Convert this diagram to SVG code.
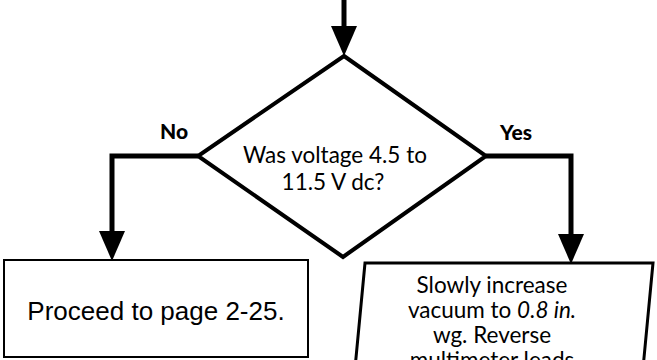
<svg xmlns="http://www.w3.org/2000/svg" width="657" height="360" viewBox="0 0 657 360">
<style>
.conn{fill:none;stroke:#000;stroke-width:5;stroke-linejoin:miter;marker-end:url(#ah)}
.shape{fill:#fff;stroke:#000}
.t{font-family:Lato,"Open Sans","Noto Sans",sans-serif;font-size:22.5px;fill:#000;text-anchor:middle}
.lbl{font-family:Lato,"Open Sans","Noto Sans",sans-serif;font-size:21px;font-weight:900;fill:#000;text-anchor:middle}
.a{font-family:"Liberation Sans",Arial,sans-serif;font-size:26px;fill:#000;text-anchor:middle}
</style>
<defs>
<marker id="ah" markerUnits="userSpaceOnUse" markerWidth="31" markerHeight="26" refX="0" refY="13" orient="auto" overflow="visible">
<path d="M0,0 L30,13 L0,26 Z" fill="#000"/>
</marker>
</defs>
<rect width="657" height="360" fill="#fff"/>
<g id="connectors">
<path class="conn" d="M344,0 V26"/>
<path class="conn" d="M198,156 H112 V231"/>
<path class="conn" d="M486,156 H571 V234"/>
</g>
<g id="decision">
<polygon class="shape" stroke-width="4" points="344,56 486,156 343,257 198,156"/>
<text class="t" x="335" y="163">Was voltage 4.5 to</text>
<text class="t" x="333" y="190">11.5 V dc?</text>
</g>
<g id="label-no"><text class="lbl" x="174" y="139">No</text></g>
<g id="label-yes"><text class="lbl" x="516" y="140">Yes</text></g>
<g id="proceed">
<rect class="shape" stroke-width="2" x="4" y="260" width="304" height="97"/>
<text class="a" x="156" y="320">Proceed to page 2-25.</text>
</g>
<g id="increase-vacuum">
<polygon class="shape" stroke-width="3" points="365,263 653,263 640,400 352,400"/>
<text class="t" x="492" y="293">Slowly increase</text>
<text class="t" x="492" y="318">vacuum to <tspan font-style="italic">0.8 in.</tspan></text>
<text class="t" x="492" y="343">wg. Reverse</text>
<text class="t" x="492" y="368">multimeter leads</text>
</g>
</svg>
